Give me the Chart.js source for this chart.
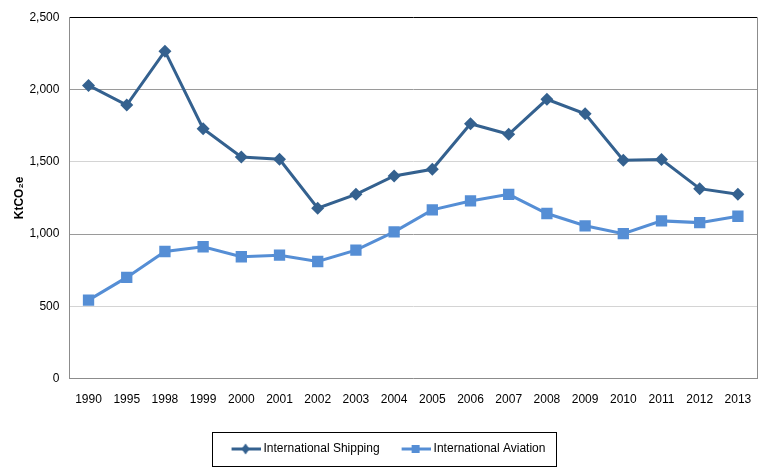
<!DOCTYPE html>
<html>
<head>
<meta charset="utf-8">
<script src="https://cdn.jsdelivr.net/npm/chart.js@4/dist/chart.umd.min.js"></script>
<style>
  html, body { margin: 0; padding: 0; background: #fff; }
  #wrap { width: 767px; height: 474px; }
</style>
</head>
<body>
<div id="wrap"><canvas id="emChart" width="767" height="474"></canvas></div>
<script>
const years = ['1990', '1995', '1998', '1999', '2000', '2001', '2002', '2003', '2004', '2005',
  '2006', '2007', '2008', '2009', '2010', '2011', '2012', '2013'];
const shipping = [2028, 1892, 2265, 1729, 1533, 1517, 1179, 1275, 1402, 1448,
  1763, 1690, 1932, 1832, 1510, 1515, 1314, 1275];
const aviation = [543, 700, 879, 912, 843, 854, 810, 889, 1015, 1167,
  1229, 1275, 1142, 1057, 1003, 1091, 1079, 1123];
const yTicks = [0, 500, 1000, 1500, 2000, 2500];

const shipColor = '#34618f';
const avColor = '#558ed5';
const font = "'Liberation Sans', sans-serif";

// small legend swatches: line with marker in the middle
function swatch(color, kind) {
  const c = document.createElement('canvas');
  c.width = 32; c.height = 14;
  const g = c.getContext('2d');
  g.strokeStyle = color; g.lineWidth = 3;
  g.beginPath(); g.moveTo(3, 7); g.lineTo(32, 7); g.stroke();
  g.fillStyle = color;
  if (kind === 'diamond') {
    g.beginPath(); g.moveTo(17, 1.5); g.lineTo(21, 7); g.lineTo(17, 12.5); g.lineTo(13, 7); g.closePath(); g.fill();
  } else {
    g.fillRect(13, 3, 8, 8);
  }
  return c;
}
const shipSwatch = swatch(shipColor, 'diamond');
const avSwatch = swatch(avColor, 'square');

const frame = {
  id: 'frame',
  afterDraw(chart) {
    const ctx = chart.ctx;
    const a = chart.chartArea;
    ctx.save();
    ctx.strokeStyle = '#8c8c8c';
    ctx.lineWidth = 1;
    ctx.beginPath();
    ctx.moveTo(Math.round(a.right) + 0.5, a.top);
    ctx.lineTo(Math.round(a.right) + 0.5, a.bottom);
    ctx.stroke();
    // legend border
    const boxes = chart.legend.legendHitBoxes;
    if (boxes && boxes.length) {
      const l = Math.min(...boxes.map(b => b.left)) - 20;
      const r = Math.max(...boxes.map(b => b.left + b.width)) + 10;
      const t = Math.min(...boxes.map(b => b.top)) - 11;
      const bt = Math.max(...boxes.map(b => b.top + b.height)) + 11;
      ctx.strokeStyle = '#000';
      ctx.strokeRect(Math.round(l) + 0.5, Math.round(t) + 0.5, Math.round(r - l), Math.round(bt - t));
    }
    ctx.restore();
  }
};

const ctx = document.getElementById('emChart').getContext('2d');
new Chart(ctx, {
  type: 'line',
  data: {
    labels: years,
    datasets: [{
      label: 'International Shipping',
      data: shipping,
      borderColor: shipColor,
      backgroundColor: shipColor,
      borderWidth: 3,
      pointStyle: 'rectRot',
      pointRadius: 6.5,
      pointBorderWidth: 0,
      fill: false
    }, {
      label: 'International Aviation',
      data: aviation,
      borderColor: avColor,
      backgroundColor: avColor,
      borderWidth: 3,
      pointStyle: 'rect',
      pointRadius: 8,
      pointBorderWidth: 0,
      fill: false
    }]
  },
  options: {
    responsive: false,
    animation: false,
    layout: { padding: { top: 7, right: 10, left: 20, bottom: 9 } },
    plugins: {
      tooltip: { enabled: false },
      legend: {
        position: 'bottom',
        labels: {
          usePointStyle: true,
          pointStyleWidth: 26,
          boxHeight: 14,
          padding: 22,
          color: '#000',
          font: { family: font, size: 12 },
          generateLabels: chart => chart.data.datasets.map((ds, i) => ({
            text: ds.label,
            pointStyle: i === 0 ? shipSwatch : avSwatch,
            fillStyle: ds.borderColor,
            strokeStyle: ds.borderColor,
            lineWidth: 0,
            datasetIndex: i,
            fontColor: '#000'
          }))
        }
      }
    },
    scales: {
      x: {
        offset: true,
        grid: { display: false, drawTicks: false },
        border: { color: '#8c8c8c' },
        ticks: { color: '#000', font: { family: font, size: 12 }, padding: 14, maxRotation: 0 }
      },
      y: {
        min: 0,
        max: 2500,
        afterBuildTicks: axis => { axis.ticks = yTicks.map(v => ({ value: v })); },
        grid: {
          drawTicks: false,
          color: c => {
            const v = c.tick ? c.tick.value : 0;
            if (v === 2500) return '#000';
            if (v === 2000 || v === 1000) return '#9a9a9a';
            return '#d4d4d4';
          }
        },
        border: { color: '#8c8c8c' },
        title: {
          display: true,
          text: 'KtCO₂e',
          color: '#000',
          font: { family: font, size: 12, weight: 'bold' },
          padding: { top: -7.2, bottom: -7.8 }
        },
        ticks: {
          color: '#000',
          padding: 10,
          font: { family: font, size: 12 },
          callback: v => v.toLocaleString('en-US')
        }
      }
    }
  },
  plugins: [frame]
});
</script>
</body>
</html>
